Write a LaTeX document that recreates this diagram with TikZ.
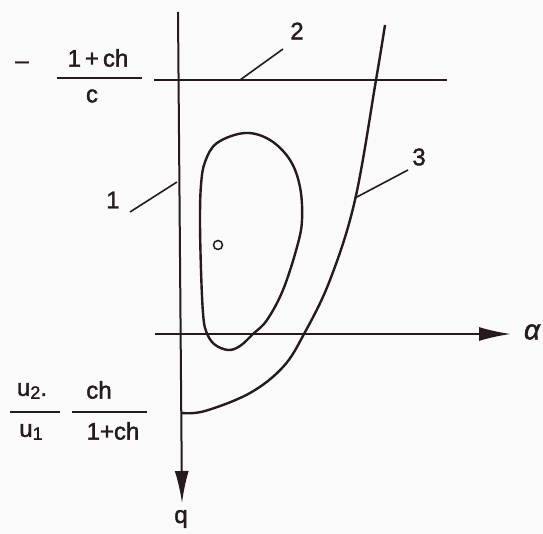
\documentclass[tikz,border=0pt]{standalone}
\usepackage{amsmath}
\usepackage{fontspec}
\setmainfont[FakeBold=1.6]{Liberation Sans}
\usepackage{tikz}
\usetikzlibrary{arrows.meta, positioning}
\definecolor{myink}{RGB}{38,26,28}
\definecolor{mypaper}{RGB}{250,250,250}
\tikzset{
  axis/.style={line width=2pt, color=myink},
  curve/.style={line width=2.4pt, color=myink, line join=round},
  leader/.style={line width=1.6pt, color=myink},
  lbl/.style={font=\fontsize{24}{28}\selectfont, text=myink, inner sep=1pt},
  axarrow/.style={-{Latex[length=32pt, width=14pt]}, axis}
}

\begin{document}
\begin{tikzpicture}[x=1pt, y=-1pt]
  \fill[mypaper] (0,0) rectangle (543,534);
  \useasboundingbox (0,0) rectangle (543,534);

  % axes
  \coordinate (qtop) at (178,12);
  \coordinate (qend) at (182,503);
  \coordinate (aleft) at (155,334);
  \coordinate (aend) at (511,334);
  \draw[axarrow] (qtop) -- (qend);
  \draw[axarrow] (aleft) -- (aend);
  \node[lbl] (qlab) at (181,519) {q};
  \node[lbl, font=\fontsize{28}{30}\selectfont\itshape] (alab) at (532,332) {α};

  % line 2
  \coordinate (h2l) at (154,80);
  \coordinate (h2r) at (447,80);
  \draw[axis] (h2l) -- (h2r);

  % curve 3
  \draw[curve] plot[smooth, tension=0.6] coordinates {(182,413) (205,411)
    (250,393) (283,367) (304,334) (330,280) (355,200) (376,80) (385,25)};

  % closed loop and point
  \draw[curve] plot[smooth cycle, tension=0.6] coordinates {(245,133) (270,140)
    (290,160) (300,187) (302,220) (297,247) (283,290) (267,320) (253,334)
    (240,346) (228,350) (214,344) (206,331) (203,313) (201,270) (200,220)
    (201,185) (205,162) (217,143)};
  \node[circle, draw=myink, line width=1.5pt, minimum size=9pt, inner sep=0pt] (pt) at (218,245) {};

  % curve numbers
  \node[lbl] (lab1) at (113,200) {1};
  \node[lbl] (lab2) at (297,31) {2};
  \node[lbl] (lab3) at (419,157) {3};
  \coordinate (l1a) at (130,212);
  \coordinate (l1b) at (177,182);
  \coordinate (l2a) at (283,49);
  \coordinate (l2b) at (240,80);
  \coordinate (l3a) at (408,170);
  \coordinate (l3b) at (355,198);
  \draw[leader] (l1a) -- (l1b);
  \draw[leader] (l2a) -- (l2b);
  \draw[leader] (l3a) -- (l3b);

  % upper value
  \node[lbl] (minus) at (22,65) {--};
  \node[lbl] (num1) at (98,58) {1\hspace{4pt}+\hspace{4pt}ch};
  \node[lbl] (den1) at (92,96) {c};
  \coordinate (b1l) at (57,78);
  \coordinate (b1r) at (142,78);
  \draw[leader] (b1l) -- (b1r);

  % lower value
  \node[lbl] (num2) at (32,391) {u\raisebox{-3pt}{\fontsize{18}{18}\selectfont 2}.};
  \node[lbl] (den2) at (31,432) {u\raisebox{-3pt}{\fontsize{18}{18}\selectfont 1}};
  \coordinate (b2l) at (10,412);
  \coordinate (b2r) at (60,412);
  \draw[leader] (b2l) -- (b2r);
  \node[lbl] (num3) at (99,390) {ch};
  \node[lbl] (den3) at (113,431) {1+ch};
  \coordinate (b3l) at (72,412);
  \coordinate (b3r) at (147,412);
  \draw[leader] (b3l) -- (b3r);
\end{tikzpicture}
\end{document}
